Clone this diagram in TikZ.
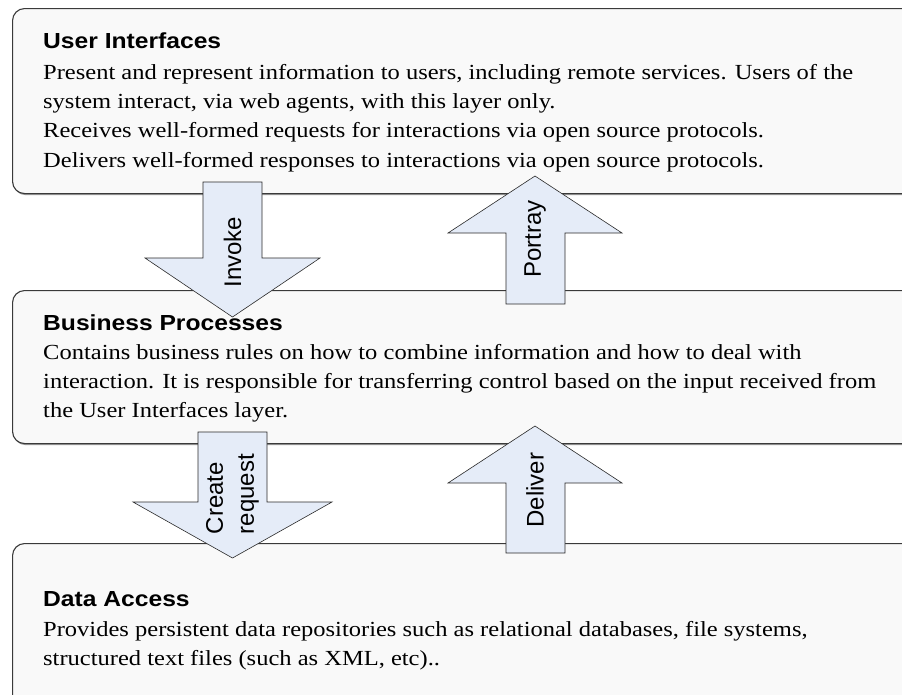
\documentclass[tikz,border=0pt]{standalone}
\usepackage{fontspec}
\setmainfont{Liberation Serif}
\newfontfamily\bodyfont{Liberation Serif}[FakeStretch=1.14]
\newfontfamily\titlefont{Liberation Sans}[FakeStretch=1.13]
\newfontfamily\labelfont{Liberation Sans}
\usetikzlibrary{shadows}

\definecolor{boxfill}{HTML}{F9F9F9}
\definecolor{boxedge}{HTML}{3A3A3A}
\definecolor{arrowfill}{HTML}{E5ECF8}
\definecolor{arrowedge}{HTML}{2A2A2A}

\begin{document}
\begin{tikzpicture}[x=1pt,y=-1pt,
  layer/.style={draw=boxedge, line width=1.1pt, fill=boxfill,
    rounded corners=12pt, anchor=north west, inner sep=0pt,
    drop shadow={shadow xshift=1pt, shadow yshift=-1.6pt, fill=black!40, opacity=1}},
  blockarrow/.style={draw=arrowedge, line width=0.6pt, fill=arrowfill},
  layertitle/.style={anchor=base west, inner sep=0pt,
    font=\titlefont\bfseries\fontsize{21.8}{26}\selectfont},
  layertext/.style={anchor=base west, inner sep=0pt,
    font=\bodyfont\fontsize{21.5}{29}\selectfont},
  arrowlabel/.style={rotate=90, inner sep=0pt, align=left,
    font=\labelfont\fontsize{24}{31}\selectfont}]

\path[use as bounding box] (0,0) rectangle (902,694);
\clip (0,0) rectangle (902,694);

% the three layers
\node[layer, minimum width=920pt, minimum height=185pt] (ui) at (12,8) {};
\node[layer, minimum width=920pt, minimum height=153pt] (bp) at (12,290) {};
\node[layer, minimum width=920pt, minimum height=180pt] (da) at (12,543) {};

% block arrows between the layers
\draw[blockarrow] (203,182) -- (262,182) -- (262,258) -- (320,258)
  -- (232.5,317) -- (145,258) -- (203,258) -- cycle;
\draw[blockarrow] (535,176) -- (622,233) -- (565,233) -- (565,304)
  -- (506,304) -- (506,233) -- (448,233) -- cycle;
\draw[blockarrow] (198,432) -- (267,432) -- (267,502) -- (332,502)
  -- (232.5,558) -- (133,502) -- (198,502) -- cycle;
\draw[blockarrow] (535,426) -- (622,483) -- (565,483) -- (565,553)
  -- (506,553) -- (506,483) -- (448,483) -- cycle;

\node[arrowlabel] (invoke) at (232.5,252) {Invoke};
\node[arrowlabel] (portray) at (535,239) {Portray};
\node[arrowlabel] (create) at (232.5,494) {Create\\request};
\node[arrowlabel] (deliver) at (535,490) {Deliver};

% User Interfaces layer
\node[layertitle] (uit) at (43,48) {User Interfaces};
\node[layertext] (ui1) at (43,79) {Present and represent information to users, including remote services. Users of the};
\node[layertext] (ui2) at (43,108.3) {system interact, via web agents, with this layer only.};
\node[layertext] (ui3) at (43,137.6) {Receives well-formed requests for interactions via open source protocols.};
\node[layertext] (ui4) at (43,167) {Delivers well-formed responses to interactions via open source protocols.};

% Business Processes layer
\node[layertitle] (bpt) at (43,330) {Business Processes};
\node[layertext] (bp1) at (43,359) {Contains business rules on how to combine information and how to deal with};
\node[layertext] (bp2) at (43,388) {interaction. It is responsible for transferring control based on the input received from};
\node[layertext] (bp3) at (43,417) {the User Interfaces layer.};

% Data Access layer
\node[layertitle] (dat) at (43,606) {Data Access};
\node[layertext] (da1) at (43,636) {Provides persistent data repositories such as relational databases, file systems,};
\node[layertext] (da2) at (43,665) {structured text files (such as XML, etc)..};
\end{tikzpicture}
\end{document}
